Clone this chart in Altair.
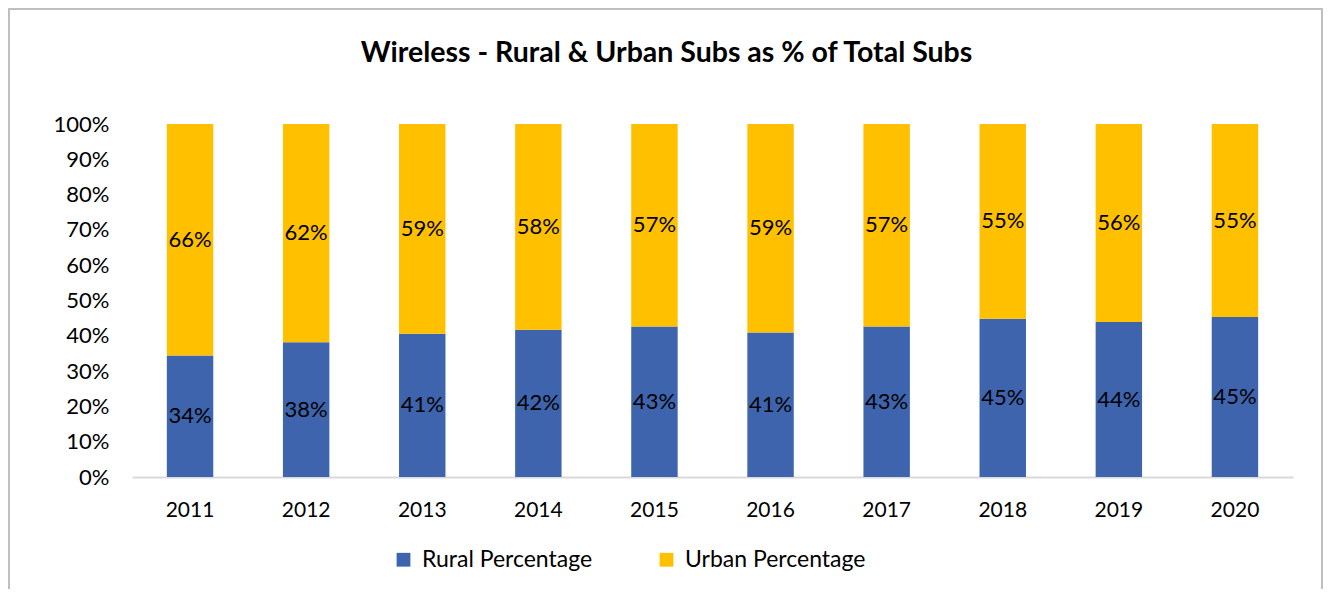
import altair as alt
import pandas as pd

years = ["2011", "2012", "2013", "2014", "2015", "2016", "2017", "2018", "2019", "2020"]
rural = [34.4, 38.2, 40.6, 41.7, 42.6, 40.9, 42.6, 44.8, 43.9, 45.3]
urban = [65.6, 61.8, 59.4, 58.3, 57.4, 59.1, 57.4, 55.2, 56.1, 54.7]
series = ["Rural Percentage", "Urban Percentage"]
colors = ["#3D64AD", "#FFC000"]
y_ticks = [0, 10, 20, 30, 40, 50, 60, 70, 80, 90, 100]

rows = []
for i, y in enumerate(years):
    rows.append({"year": y, "series": series[0], "value": rural[i], "order": 0})
    rows.append({"year": y, "series": series[1], "value": urban[i], "order": 1})
df = pd.DataFrame(rows)

FONT = "Lato"
W, H = 1161, 353

base = alt.Chart(df).transform_stack(
    stack="value",
    groupby=["year"],
    as_=["y0", "y1"],
    sort=[alt.SortField("order", order="ascending")],
).transform_calculate(
    mid="(datum.y0 + datum.y1) / 2",
    label="round(datum.value) + '%'",
)

xaxis = alt.Axis(
    labelAngle=0,
    ticks=False,
    domainColor="#D9D9D9",
    domainWidth=2,
    labelFontSize=21,
    labelFont=FONT,
    labelColor="#000000",
    labelPadding=22,
)
xscale = alt.Scale(paddingInner=0.6, paddingOuter=0.3)

yaxis = alt.Axis(
    values=y_ticks,
    labelExpr="datum.value + '%'",
    labelOverlap=False,
    tickCount=11,
    domain=False,
    ticks=False,
    grid=False,
    labelFontSize=22,
    labelFont=FONT,
    labelColor="#000000",
    labelPadding=23,
)
yscale = alt.Scale(domain=[0, 100], nice=False)

bars = base.mark_bar().encode(
    x=alt.X("year:N", sort=years, title=None, scale=xscale, axis=xaxis),
    y=alt.Y("y0:Q", title=None, scale=yscale, axis=yaxis),
    y2="y1:Q",
    color=alt.Color(
        "series:N",
        scale=alt.Scale(domain=series, range=colors),
        legend=alt.Legend(
            title=None,
            orient="none",
            direction="horizontal",
            legendX=260,
            legendY=424,
            symbolType="square",
            symbolSize=190,
            symbolStrokeWidth=0,
            labelFontSize=23,
            labelFont=FONT,
            labelColor="#000000",
            labelOffset=7,
            labelLimit=400,
            columnPadding=62,
            padding=0,
        ),
    ),
)

labels = base.mark_text(fontSize=22, font=FONT, color="#000000", baseline="middle").encode(
    x=alt.X("year:N", sort=years, title=None, scale=xscale, axis=xaxis),
    y=alt.Y("mid:Q", title=None, scale=yscale, axis=yaxis),
    text="label:N",
)

border = alt.Chart(pd.DataFrame({"a": [0]})).mark_rect(
    fillOpacity=0, stroke="#BFBFBF", strokeWidth=2
).encode(
    x=alt.value(-123),
    x2=alt.value(1190),
    y=alt.value(-115),
    y2=alt.value(520),
)

chart = alt.layer(border, bars, labels).properties(
    width=W,
    height=H,
    title=alt.TitleParams(
        "Wireless - Rural & Urban Subs as % of Total Subs",
        font=FONT,
        fontSize=28.5,
        fontWeight="bold",
        color="#000000",
        anchor="middle",
        baseline="alphabetic",
        dx=-46,
        offset=-82,
    ),
    padding={"left": 124, "top": 116, "right": 31, "bottom": 112},
    autosize=alt.AutoSizeParams(type="none"),
).configure(background="white").configure_view(stroke=None)

chart.save("out.html", embed_options={"renderer": "svg", "actions": False})
